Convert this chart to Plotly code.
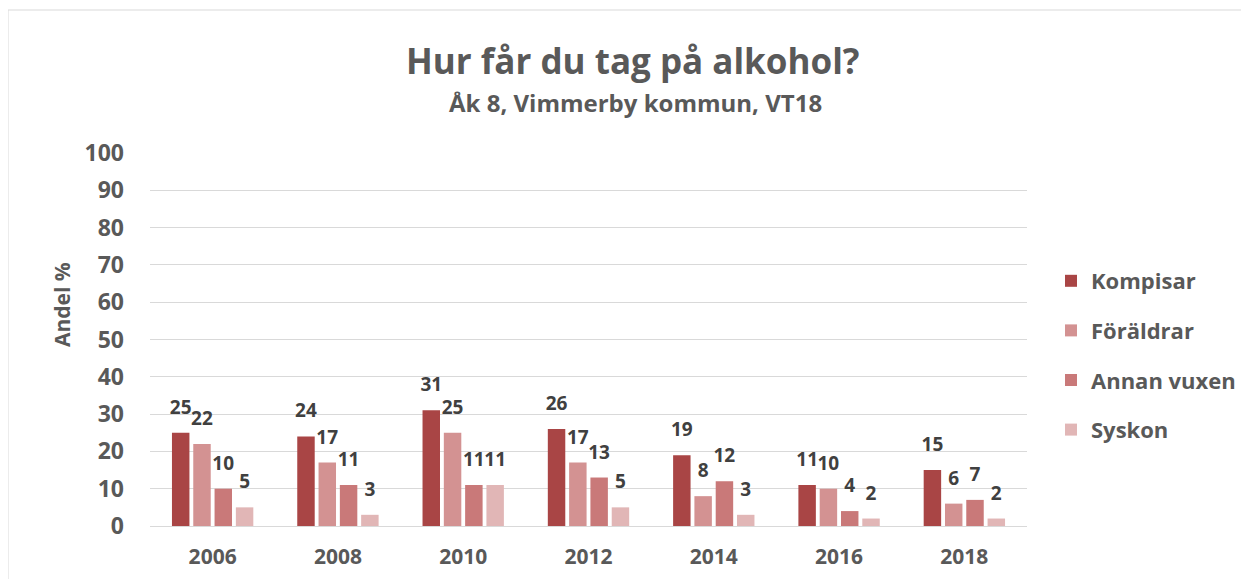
import plotly.graph_objects as go

years = ["2006", "2008", "2010", "2012", "2014", "2016", "2018"]
kompisar = [25, 24, 31, 26, 19, 11, 15]
foraldrar = [22, 17, 25, 17, 8, 10, 6]
annan_vuxen = [10, 11, 11, 13, 12, 4, 7]
syskon = [5, 3, 11, 5, 3, 2, 2]

series = [
    ("Kompisar", kompisar, "#A94545"),
    ("Föräldrar", foraldrar, "#D39292"),
    ("Annan vuxen", annan_vuxen, "#C97979"),
    ("Syskon", syskon, "#E1B6B6"),
]

FONT = "Open Sans"
GREY = "#595959"
DARK = "#404040"

W, H = 1249, 579
L, T = 142, 145
PW, PH = 877, 373
R = W - L - PW
B = H - T - PH


def px(x):
    return (x - L) / PW


def py(y):
    return (T + PH - y) / PH


fig = go.Figure()
for name, vals, col in series:
    fig.add_trace(go.Bar(
        x=years, y=vals, name=name, marker_color=col,
        marker_line_width=0,
        text=[str(v) for v in vals],
        texttemplate="<span style='font-size:19px'>%{text}</span><br><span style='font-size:9px;color:rgba(0,0,0,0)'>.</span>",
        textposition="outside", cliponaxis=False, constraintext="none",
        textfont=dict(family=FONT, size=10, color=DARK, weight="bold"),
        legendgroup=name,
    ))

fig.update_layout(
    width=W, height=H,
    margin=dict(l=L, r=R, t=T, b=B),
    paper_bgcolor="white", plot_bgcolor="white",
    barmode="group", bargap=0.32, bargroupgap=0.18,
    font=dict(family=FONT, color=GREY),
    showlegend=True,
    legend=dict(
        x=px(1043), y=py(252),
        xanchor="left", yanchor="top",
        font=dict(family=FONT, size=22, color=GREY, weight="bold"),
        tracegroupgap=18, itemwidth=30,
        bgcolor="rgba(0,0,0,0)",
    ),
)

fig.update_yaxes(
    range=[0, 100], dtick=10, showgrid=True, gridcolor="#D9D9D9", gridwidth=1,
    zeroline=True, zerolinecolor="#D9D9D9", zerolinewidth=1,
    tickfont=dict(family=FONT, size=23, color=GREY, weight="bold"),
    ticklabelstandoff=25,
    showline=False,
)
fig.update_xaxes(
    showline=True, linecolor="#D9D9D9", linewidth=1,
    tickfont=dict(family=FONT, size=21, color=GREY, weight="bold"),
    ticklabelstandoff=12, ticks="",
)

# y-axis title (Excel places it above plot centre)
fig.add_annotation(
    text="Andel %", xref="paper", yref="paper",
    x=px(54), y=py(297), xanchor="center", yanchor="middle", textangle=-90,
    showarrow=False, font=dict(family=FONT, size=21, color=GREY, weight="bold"),
)

fig.add_annotation(
    text="Hur får du tag på alkohol?", xref="paper", yref="paper",
    x=px(625), y=py(52), xanchor="center", yanchor="middle",
    showarrow=False, font=dict(family=FONT, size=35, color=GREY, weight="bold"),
)
fig.add_annotation(
    text="Åk 8, Vimmerby kommun, VT18", xref="paper", yref="paper",
    x=px(627), y=py(95), xanchor="center", yanchor="middle",
    showarrow=False, font=dict(family=FONT, size=24, color=GREY, weight="bold"),
)

# chart border
fig.add_shape(
    type="rect", xref="paper", yref="paper",
    x0=px(0), x1=px(1300), y0=py(620), y1=py(2),
    line=dict(color="#D9D9D9", width=1), fillcolor="rgba(0,0,0,0)", layer="below",
)

fig.write_html("out.html")
